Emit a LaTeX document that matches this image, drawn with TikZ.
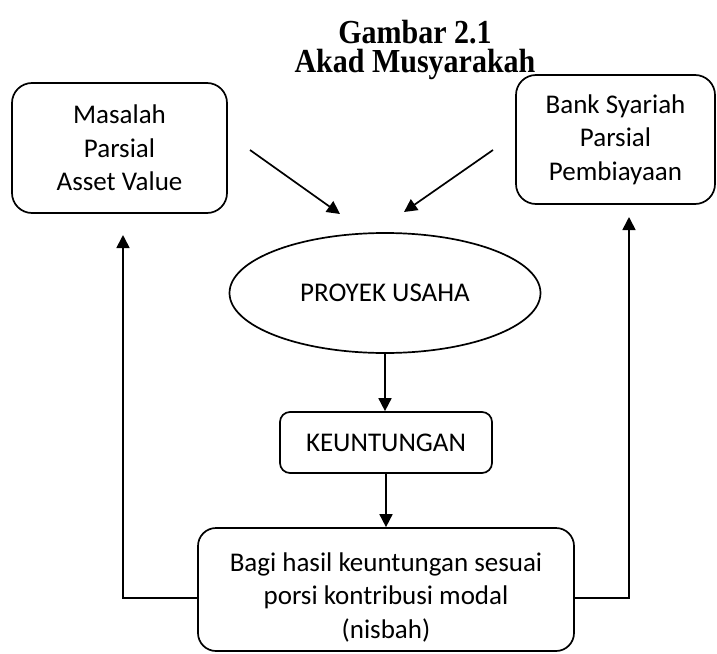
\documentclass[tikz,border=0pt]{standalone}
\usepackage{fontspec}
\setmainfont{Carlito}
\newfontfamily\headfont{Liberation Serif}
\usetikzlibrary{arrows.meta,shapes.geometric}
\newcommand{\tallhead}[1]{\scalebox{1}[1.12]{#1}}
\begin{document}
\begin{tikzpicture}[x=1pt,y=-1pt,
  txt/.style={font=\fontsize{27}{33.5}\selectfont, align=center, inner sep=0pt},
  headtxt/.style={font=\headfont\bfseries\fontsize{30}{29}\selectfont, align=center, inner sep=0pt},
  rbox/.style={draw, line width=1.7pt, inner sep=0pt, rounded corners=#1},
  link/.style={line width=1.7pt, -{Triangle[length=13pt,width=13pt]}},
  wire/.style={line width=1.7pt}]
\useasboundingbox (0,0) rectangle (717,653);

% heading
\node[headtxt] (head) at (415,49.6) {\tallhead{Gambar 2.1}\\\tallhead{Akad Musyarakah}};

% the two partners
\node[rbox=20pt, txt, minimum width=215pt, minimum height=130pt] (masalah) at (119.5,148)
  {Masalah\\Parsial\\Asset Value};
\node[rbox=20pt, txt, minimum width=199pt, minimum height=129pt] (bank) at (615.5,139.5)
  {Bank Syariah\\Parsial\\Pembiayaan};

% the joint venture and its result
\node[draw, ellipse, line width=1.7pt, txt, minimum width=311pt, minimum height=120pt] (proyek) at (385,293)
  {PROYEK USAHA};
\node[rbox=10pt, txt, minimum width=212pt, minimum height=61pt] (untung) at (386,442.5)
  {KEUNTUNGAN};
\node[rbox=18pt, minimum width=376pt, minimum height=123pt] (bagi) at (386,589.5) {};
\node[txt] (bagitxt) at (386,597)
  {Bagi hasil keuntungan sesuai\\porsi kontribusi modal\\(nisbah)};

% contributions flowing into the venture
\coordinate (inL0) at (250,150);
\coordinate (inL1) at (340,214);
\coordinate (inR0) at (493,150);
\coordinate (inR1) at (404,212);
\draw[link] (inL0) -- (inL1);
\draw[link] (inR0) -- (inR1);

% main flow
\draw[link] (proyek.south) -- (proyek.south |- untung.north);
\draw[link] (untung.south) -- (untung.south |- bagi.north);

% profit shares returned to each partner
\coordinate (backL) at (123,235);
\coordinate (backR) at (629,217);
\draw[link] ([yshift=-8.5pt]bagi.west) -| (backL);
\draw[link] ([yshift=-8.5pt]bagi.east) -| (backR);
\end{tikzpicture}
\end{document}
